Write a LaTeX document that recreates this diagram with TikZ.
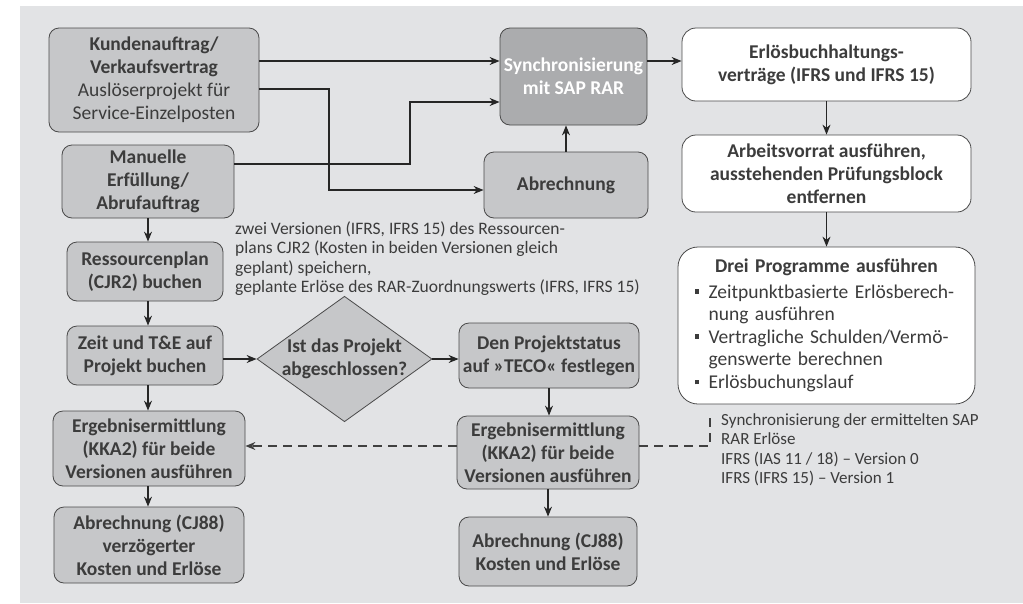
\documentclass[tikz,border=0pt]{standalone}
\usepackage{fontspec}
\setmainfont{Carlito}
\usetikzlibrary{arrows.meta, positioning, shapes.geometric}
\definecolor{bgGray}{HTML}{E2E3E5}
\definecolor{boxGray}{HTML}{C6C7C9}
\definecolor{syncGray}{HTML}{ABACAE}
\definecolor{lineGray}{HTML}{4A4A4A}
\definecolor{textGray}{HTML}{3C3C3C}
\newcommand{\sqbullet}{\makebox[0.72em][l]{\rule[0.22em]{0.24em}{0.24em}}}

\begin{document}
\begin{tikzpicture}[x=1pt, y=-1pt]
\tikzset{
  box/.style={draw=lineGray, fill=boxGray, rounded corners=10pt, line width=0.8pt, align=center, text=textGray, inner sep=0pt, font=\fontsize{19.5}{23}\selectfont\bfseries},
  whitebox/.style={box, fill=white, rounded corners=14pt},
  arr/.style={-{Stealth[length=10pt, width=8pt]}, line width=1.1pt, draw=black!85},
  dashline/.style={dash pattern=on 9pt off 6pt, line width=1.2pt, draw=black!75},
  note/.style={align=left, text=textGray, inner sep=0pt, anchor=north west, font=\fontsize{17.5}{19.6}\selectfont}
}

\useasboundingbox (0,0) rectangle (1023,603);
\fill[bgGray] (20,6) rectangle (1023,603);

\node[box, minimum width=210pt, minimum height=104pt] (kunde) at (154,80) {Kundenauftrag/\\Verkaufsvertrag\\{\mdseries Auslöserprojekt für}\\{\mdseries Service-Einzelposten}};
\node[box, minimum width=172pt, minimum height=73pt] (manuell) at (148,181.5) {Manuelle\\Erfüllung/\\Abrufauftrag};
\node[box, minimum width=156pt, minimum height=59pt] (ressplan) at (145,271.5) {Ressourcenplan\\(CJR2) buchen};
\node[box, minimum width=156pt, minimum height=59pt] (zeit) at (145,355.5) {Zeit und T\&E auf\\Projekt buchen};
\node[box, diamond, rounded corners=0pt, inner sep=-10pt, minimum width=175pt, minimum height=116pt] (frage) at (344.5,359) {Ist das Projekt\\abgeschlossen?};
\node[box, minimum width=192pt, minimum height=75pt] (ergebL) at (149,448.5) {Ergebnisermittlung\\(KKA2) für beide\\Versionen ausführen};
\node[box, minimum width=190pt, minimum height=76pt] (abrL) at (149,545) {Abrechnung (CJ88)\\verzögerter\\Kosten und Erlöse};

\node[box, fill=syncGray, text=white, minimum width=147pt, minimum height=97pt] (sync) at (573.5,76.5) {Synchronisierung\\mit SAP RAR};
\node[box, minimum width=164pt, minimum height=66pt] (abrTop) at (566,185) {Abrechnung};
\node[box, minimum width=180pt, minimum height=65pt] (teco) at (549,355.5) {Den Projektstatus\\auf »TECO« festlegen};
\node[box, minimum width=182pt, minimum height=73pt] (ergebR) at (548,452.5) {Ergebnisermittlung\\(KKA2) für beide\\Versionen ausführen};
\node[box, minimum width=178pt, minimum height=69pt] (abrR) at (548,551.5) {Abrechnung (CJ88)\\Kosten und Erlöse};

\node[whitebox, minimum width=289pt, minimum height=73pt] (erloes) at (826.5,64.5) {Erlösbuchhaltungs-\\verträge (IFRS und IFRS 15)};
\node[whitebox, minimum width=289pt, minimum height=77pt] (arbeit) at (826.5,173.5) {Arbeitsvorrat ausführen,\\ausstehenden Prüfungsblock\\entfernen};
\node[whitebox, rounded corners=20pt, align=left, text width=264pt, minimum width=297pt, minimum height=157pt] (drei) at (826.5,325.5) {{\centering Drei Programme ausführen\par}
\vspace{3pt}\fontsize{19.5}{22.5}\selectfont\mdseries
\sqbullet Zeitpunktbasierte Erlösberech-\\
\hspace*{0.72em}nung ausführen\\
\sqbullet Vertragliche Schulden/Vermö-\\
\hspace*{0.72em}genswerte berechnen\\
\sqbullet Erlösbuchungslauf};

\node[note] (notizL) at (235,221) {zwei Versionen (IFRS, IFRS 15) des Ressourcen-\\plans CJR2 (Kosten in beiden Versionen gleich\\geplant) speichern,\\geplante Erlöse des RAR-Zuordnungswerts (IFRS, IFRS 15)};
\node[note, font=\fontsize{17}{19.6}\selectfont] (notizR) at (721,413) {Synchronisierung der ermittelten SAP\\RAR Erlöse\\IFRS (IAS 11 / 18) – Version 0\\IFRS (IFRS 15) – Version 1};
\coordinate (syncEnd) at (710,412);

\draw[arr] (kunde.east |- 0,61) -- (sync.west |- 0,61);
\draw[arr] (kunde.east |- 0,89) -| (329,190) -- (abrTop.west |- 0,190);
\draw[arr] (manuell.east |- 0,164) -| (410,102) -- (sync.west |- 0,102);
\draw[arr] (abrTop.north) -- (abrTop.north |- sync.south);
\draw[arr] (sync.east |- 0,61) -- (erloes.west |- 0,61);
\draw[arr] (erloes.south) -- (arbeit.north);
\draw[arr] (arbeit.south) -- (drei.north);

\draw[arr] (manuell.south) -- (manuell.south |- ressplan.north);
\draw[arr] (ressplan.south -| manuell) -- (zeit.north -| manuell);
\draw[arr] (zeit.south -| manuell) -- (ergebL.north -| manuell);
\draw[arr] (ergebL.south -| manuell) -- (abrL.north -| manuell);
\draw[arr] (zeit.east |- frage) -- (frage.west);
\draw[arr] (frage.east) -- (teco.west |- frage);
\draw[arr] (teco.south) -- (ergebR.north -| teco);
\draw[arr] (ergebR.south) -- (abrR.north -| ergebR);

\draw[dashline, -{Stealth[length=10pt, width=8pt]}] (ergebR.west |- 0,446) -- (ergebL.east |- 0,446);
\draw[dashline] (ergebR.east |- 0,446) -| (syncEnd);
\end{tikzpicture}
\end{document}
